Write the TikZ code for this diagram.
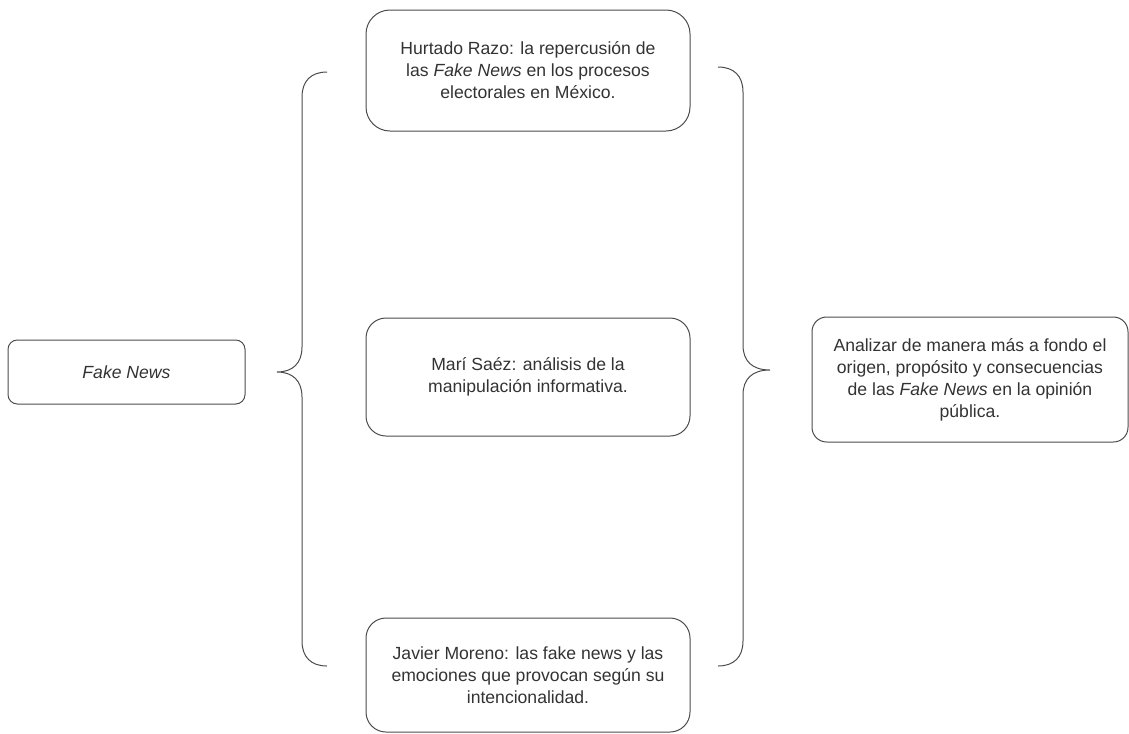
\documentclass[tikz,border=0pt]{standalone}
\usepackage{fontspec}
\setmainfont{Liberation Sans}
\tikzset{
  roundbox/.style={draw=black!70, line width=0.75pt, rounded corners=#1, align=center,
    font=\fontsize{13.2pt}{16.5pt}\selectfont, text=black!80, inner sep=0pt},
  roundbox/.default=15pt,
  curlybrace/.style={draw=black!70, line width=0.75pt}
}

\begin{document}
\begin{tikzpicture}[x=0.75pt,y=-0.75pt]
\useasboundingbox (0,0) rectangle (1129,733);
% Temas
\node[roundbox=7pt, minimum width=177.75pt, minimum height=48pt] (fake) at (126.5,372) {\textit{Fake News}};
\node[roundbox=18pt, minimum width=243pt, minimum height=90.75pt] (hurtado) at (528,70.5)
  {Hurtado Razo: la repercusión de\\las \textit{Fake News} en los procesos\\electorales en México.};
\node[roundbox=15pt, minimum width=243pt, minimum height=88.5pt] (mari) at (528,377)
  {Marí Saéz: análisis de la\\manipulación informativa.};
\node[roundbox=15pt, minimum width=243pt, minimum height=85.5pt] (moreno) at (528,675)
  {Javier Moreno: las fake news y las\\emociones que provocan según su\\intencionalidad.};
\node[roundbox=11pt, minimum width=237pt, minimum height=93.75pt] (objetivo) at (970,379.5)
  {Analizar de manera más a fondo el\\origen, propósito y consecuencias\\de las \textit{Fake News} en la opinión\\pública.};
% Llaves
\draw[curlybrace] (327,72) .. controls (311,72) and (302,81) .. (302,97) -- (302,347)
  .. controls (302,363) and (293,372) .. (277,372)
  .. controls (293,372) and (302,381) .. (302,397) -- (302,641)
  .. controls (302,657) and (311,666) .. (327,666);
\draw[curlybrace] (718,67) .. controls (734,67) and (743,76) .. (743,92) -- (743,345)
  .. controls (743,361) and (752,370) .. (770,370)
  .. controls (752,370) and (743,379) .. (743,395) -- (743,641)
  .. controls (743,657) and (734,666) .. (718,666);
\end{tikzpicture}
\end{document}
